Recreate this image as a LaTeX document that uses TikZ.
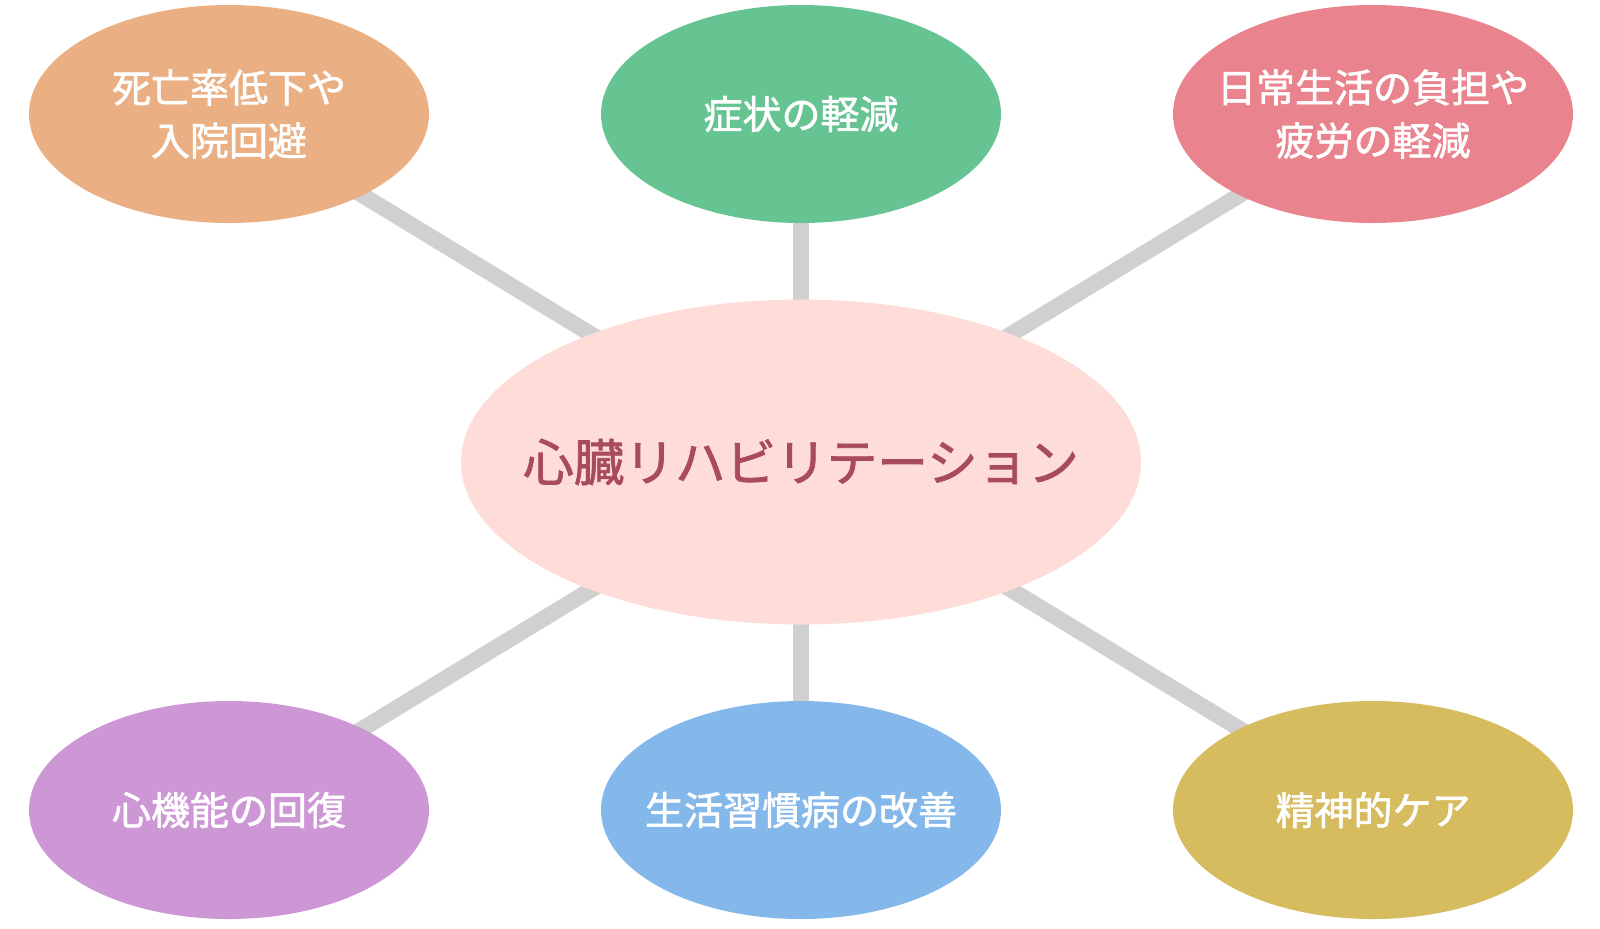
\documentclass[tikz,border=0pt]{standalone}
\usepackage{fontspec}
\setmainfont{Noto Sans CJK JP}
\newfontfamily\medjp{Noto Sans CJK JP}[FakeBold=1.5]
\usetikzlibrary{shapes.geometric,backgrounds}
\definecolor{linkgray}{HTML}{D0D0D0}
\definecolor{hubfill}{HTML}{FEDCD7}
\definecolor{hubtext}{HTML}{A84B5A}
\definecolor{orangefill}{HTML}{EAB084}
\definecolor{greenfill}{HTML}{66C392}
\definecolor{pinkfill}{HTML}{E9848F}
\definecolor{purplefill}{HTML}{CD97D6}
\definecolor{bluefill}{HTML}{85B8EA}
\definecolor{goldfill}{HTML}{D6BB5F}

\begin{document}
\begin{tikzpicture}[x=0.5pt,y=-0.5pt,
    leaf/.style={ellipse, minimum width=200pt, minimum height=109pt, inner sep=0pt},
    leaftext/.style={text=white, align=center, font=\medjp\fontsize{19.5}{26.5}\selectfont},
    hub/.style={ellipse, fill=hubfill, minimum width=340pt, minimum height=162.5pt,
        inner sep=0pt},
    hubtext/.style={text=hubtext, font=\medjp\fontsize{25.3}{30}\selectfont},
    link/.style={draw=linkgray, line width=8pt}]
            \useasboundingbox (0, 0) rectangle (1600, 928);
            \node[hub, label={[hubtext]center:心臓リハビリテーション}] (heart) at (801, 462) {};
            \node[leaf, fill=orangefill, label={[leaftext]center:死亡率低下や\\入院回避}] (mortality) at (229, 114) {};
            \node[leaf, fill=greenfill, label={[leaftext]center:症状の軽減}] (symptom) at (801, 114) {};
            \node[leaf, fill=pinkfill, label={[leaftext]center:日常生活の負担や\\疲労の軽減}] (fatigue) at (1373, 114) {};
            \node[leaf, fill=purplefill, label={[leaftext]center:心機能の回復}] (cardiac) at (229, 810) {};
            \node[leaf, fill=bluefill, label={[leaftext]center:生活習慣病の改善}] (lifestyle) at (801, 810) {};
            \node[leaf, fill=goldfill, label={[leaftext]center:精神的ケア}] (mental) at (1373, 810) {};
            \begin{scope}[on background layer]
                \foreach \n in {mortality, symptom, fatigue, cardiac, lifestyle, mental}
                    \draw[link] (heart.center) -- (\n.center);
            \end{scope}
        \end{tikzpicture}
\end{document}
